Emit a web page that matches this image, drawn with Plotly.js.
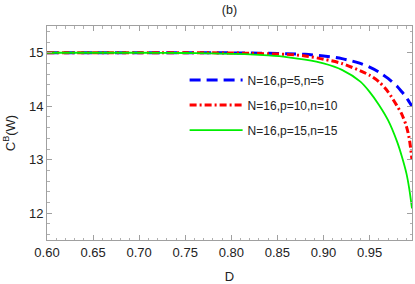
<!DOCTYPE html>
<html>
<head>
<meta charset="utf-8">
<script src="https://cdn.plot.ly/plotly-3.0.1.min.js"></script>
<style>html,body{margin:0;padding:0;background:#fff;}#chart{width:415px;height:284px;}</style>
</head>
<body>
<div id="chart"></div>
<script>
const D = [0.60, 0.65, 0.70, 0.75, 0.78, 0.80, 0.82, 0.84, 0.86, 0.88, 0.90, 0.92, 0.94, 0.95, 0.96, 0.97, 0.98, 0.985, 0.99, 0.993, 0.996];
const cB_p5  = [15.00, 15.00, 15.00, 15.00, 15.00, 14.998, 14.995, 14.99, 14.98, 14.97, 14.94, 14.89, 14.80, 14.73, 14.64, 14.52, 14.37, 14.27, 14.16, 14.08, 14.00];
const cB_p10 = [15.00, 15.00, 15.00, 15.00, 14.998, 14.995, 14.99, 14.98, 14.97, 14.94, 14.88, 14.80, 14.66, 14.58, 14.46, 14.27, 14.00, 13.85, 13.62, 13.40, 13.00];
const cB_p15 = [15.00, 15.00, 15.00, 14.995, 14.99, 14.98, 14.97, 14.95, 14.92, 14.87, 14.80, 14.68, 14.46, 14.27, 14.03, 13.74, 13.33, 13.06, 12.74, 12.46, 12.09];
const seriesNames = ["N=16,p=5,n=5", "N=16,p=10,n=10", "N=16,p=15,n=15"];
const xTickVals = [0.60, 0.65, 0.70, 0.75, 0.80, 0.85, 0.90, 0.95];
const yTickVals = [12, 13, 14, 15];

const traces = [
  {x: D, y: cB_p5, name: seriesNames[0], mode: 'lines', line: {color: '#0000ff', width: 3, dash: '11px,6px', shape: 'spline', smoothing: 0.8}, legendgroup: 'a'},
  {x: D, y: cB_p10, name: seriesNames[1], mode: 'lines', line: {color: '#ff0000', width: 3, dash: '7px,3px,2px,3px', shape: 'spline', smoothing: 0.8}, legendgroup: 'b'},
  {x: D, y: cB_p15, name: seriesNames[2], mode: 'lines', line: {color: '#00ee00', width: 1.8, shape: 'spline', smoothing: 0.8}, legendgroup: 'c'}
];

const axisCommon = {
  showline: true, linecolor: '#a0a0a0', linewidth: 1, mirror: 'allticks',
  ticks: 'inside', ticklen: 5, tickcolor: '#a0a0a0', showgrid: false, zeroline: false,
  tickfont: {family: 'Liberation Sans, Arial, sans-serif', size: 13, color: '#222'}
};

const layout = {
  width: 415, height: 284,
  margin: {l: 47, r: 3, t: 26, b: 44},
  paper_bgcolor: '#fff', plot_bgcolor: '#fff',
  title: {text: '(b)', x: 0.553, xanchor: 'center', y: 0.965, yanchor: 'middle', font: {family: 'Liberation Sans, Arial, sans-serif', size: 12.5, color: '#222'}},
  xaxis: Object.assign({}, axisCommon, {
    range: [0.6, 0.996], tickvals: xTickVals, tickformat: '.2f',
    minor: {dtick: 0.01, ticks: 'inside', ticklen: 2.5, tickcolor: '#b0b0b0', showgrid: false},
    title: {text: 'D', standoff: 19, font: {family: 'Liberation Sans, Arial, sans-serif', size: 13, color: '#222'}}
  }),
  yaxis: Object.assign({}, axisCommon, {
    range: [11.5, 15.5], tickvals: yTickVals,
    minor: {dtick: 0.2, ticks: 'inside', ticklen: 2.5, tickcolor: '#b0b0b0', showgrid: false},
    title: {text: 'C<sup>B</sup>(W)', standoff: 10, font: {family: 'Liberation Sans, Arial, sans-serif', size: 13, color: '#222'}}
  }),
  showlegend: true,
  legend: {x: 0.377, y: 0.815, xanchor: 'left', yanchor: 'top', bgcolor: 'rgba(0,0,0,0)', itemwidth: 53, tracegroupgap: 6,
    font: {family: 'Liberation Sans, Arial, sans-serif', size: 12, color: '#222'}}
};

Plotly.newPlot('chart', traces, layout, {displayModeBar: false, staticPlot: true});
</script>
</body>
</html>
